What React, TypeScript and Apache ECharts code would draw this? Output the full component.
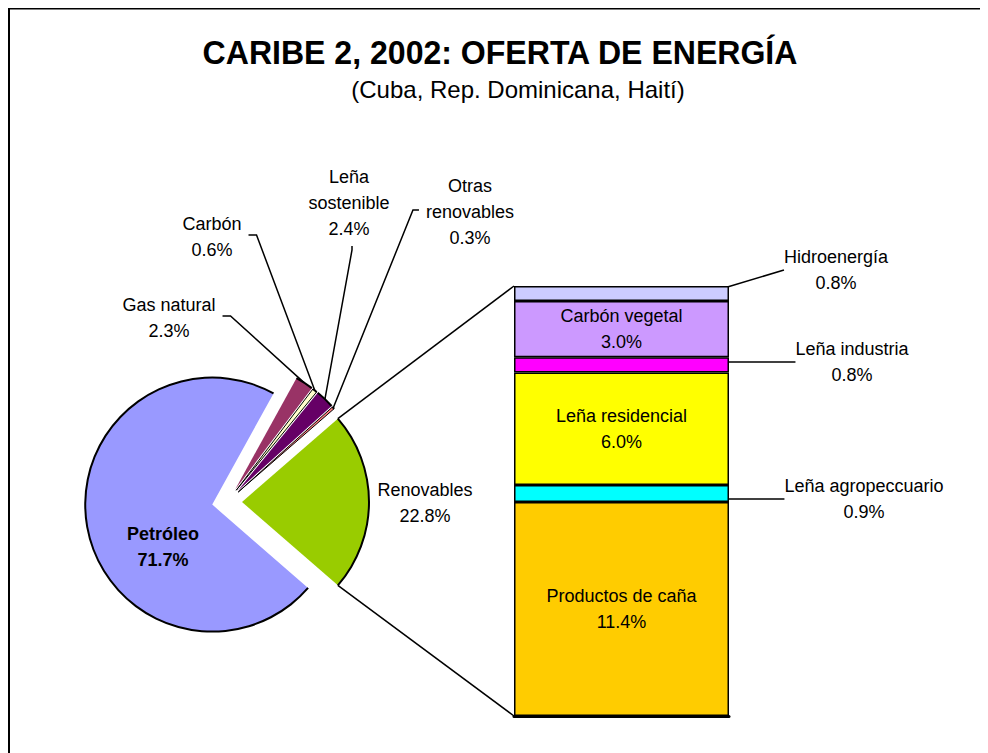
import React, { useEffect, useRef } from 'react';
import * as echarts from 'echarts';

const TITLE = 'CARIBE 2, 2002: OFERTA DE ENERGÍA';
const SUBTITLE = '(Cuba, Rep. Dominicana, Haití)';

// Pie (clockwise from the top edge of "Renovables")
const pieNames = ['Renovables', 'Petróleo', 'Gas natural', 'Carbón', 'Leña sostenible', 'Otras renovables'];
const pieLabelNames = ['Renovables', 'Petróleo', 'Gas natural', 'Carbón', 'Leña\nsostenible', 'Otras\nrenovables'];
const pieValues = [22.8, 71.7, 2.3, 0.6, 2.4, 0.3];
const pieColors = ['#99CC00', '#9999FF', '#993366', '#FFFFCC', '#660066', '#FF8080'];

// Bar of "Renovables" (bottom to top)
const barNames = ['Productos de caña', 'Leña agropeccuario', 'Leña residencial', 'Leña industria', 'Carbón vegetal', 'Hidroenergía'];
const barValues = [11.4, 0.9, 6.0, 0.8, 3.0, 0.8];
const barColors = ['#FFCC00', '#00FFFF', '#FFFF00', '#FF00FF', '#CC99FF', '#CCCCFF'];
const barLabelInside = [true, false, true, false, true, false];

// layout
const FONT = '"Liberation Sans", Arial, sans-serif';
const FONT_SIZE = 18;
const PIE_CENTER = [219, 494];
const PIE_R = 127;
const EXPLODE = 15;
const START_ANGLE = 41;
const GRID = { left: 506, top: 278, width: 215, height: 430 };
const pieLabelPos: number[][] = [[417, 495], [155, 539], [161, 310], [204, 229], [341, 195], [462, 204]];
const pieLineSide: (string | null)[] = [null, null, 'right', 'right', 'bottom', 'left'];
const barLabelPos: (number[] | null)[] = [null, [856, 491], null, [844, 354], null, [828, 262]];
const barLineStub = [0, 0, 0, 0, 0, 6];

export default function App() {
  const ref = useRef<HTMLDivElement>(null);
  useEffect(() => {
    if (!ref.current) return;
    const chart = echarts.init(ref.current, undefined, { renderer: 'svg' });
    const barTotal = barValues.reduce((a, b) => a + b, 0);
    const pieTotal = pieValues.reduce((a, b) => a + b, 0);

    const labelText = { color: '#000', fontFamily: FONT, fontSize: FONT_SIZE, lineHeight: 26, textBorderWidth: 0 };
    const lineStyle = { color: '#000', width: 1.5 };
    const clear = 'rgba(0,0,0,0)';

    // geometry of each exploded slice, derived from the data
    const geo: { start: number; ang: number; center: number[]; arcMid: number[] }[] = [];
    let cum = 0;
    pieValues.forEach((v) => {
      const ang = (v / pieTotal) * 360;
      const start = START_ANGLE - cum;
      const bis = ((start - ang / 2) * Math.PI) / 180;
      const center = [PIE_CENTER[0] + EXPLODE * Math.cos(bis), PIE_CENTER[1] - EXPLODE * Math.sin(bis)];
      geo.push({
        start,
        ang,
        center,
        arcMid: [center[0] + PIE_R * Math.cos(bis), center[1] - PIE_R * Math.sin(bis)],
      });
      cum += ang;
    });

    const pieSeries: any[] = [];
    pieValues.forEach((v, i) => {
      const g = geo[i];
      const smallBorder = i === 3 || i === 5;
      const inside = i === 1;
      const side = pieLineSide[i];
      pieSeries.push({
        type: 'pie',
        name: pieNames[i],
        center: g.center,
        radius: PIE_R,
        startAngle: g.start,
        clockwise: true,
        minAngle: 0,
        avoidLabelOverlap: false,
        emphasis: { disabled: true },
        z: 2,
        label: {
          show: true,
          position: inside ? 'inside' : 'outside',
          ...labelText,
          fontWeight: inside ? 'bold' : 'normal',
        },
        labelLine: side ? { show: true, length: 10, length2: 8, lineStyle } : { show: false },
        labelLayout: (p: any) => {
          if (p.dataIndex !== 0) return {};
          const [lx, ly] = pieLabelPos[i];
          const res: any = { x: lx, y: ly, align: 'center', verticalAlign: 'middle' };
          if (side) {
            const w = p.labelRect.width;
            const h = p.labelRect.height;
            let edge: number[];
            let stub: number[];
            if (side === 'right') {
              edge = [lx + w / 2 + 7, ly - 2];
              stub = [edge[0] + 8, edge[1]];
            } else if (side === 'left') {
              edge = [lx - w / 2 - 7, ly - 2];
              stub = [edge[0] - 6, edge[1]];
            } else {
              edge = [lx + 3, ly + h / 2 + 4];
              stub = [edge[0], edge[1] + 4];
            }
            res.labelLinePoints = [g.arcMid, stub, edge];
          }
          return res;
        },
        data: [
          {
            name: pieNames[i],
            value: v,
            itemStyle: { color: pieColors[i], borderColor: '#000', borderWidth: smallBorder ? 1 : 0 },
            label: { formatter: pieLabelNames[i] + '\n' + v.toFixed(1) + '%' },
          },
          {
            name: '',
            value: pieTotal - v,
            itemStyle: { color: clear, borderWidth: 0 },
            label: { show: false },
            labelLine: { show: false },
          },
        ],
      });
      // black outline along the arc
      pieSeries.push({
        type: 'pie',
        name: pieNames[i] + ' arc',
        silent: true,
        center: g.center,
        radius: [PIE_R - 1, PIE_R + 1],
        startAngle: g.start,
        clockwise: true,
        minAngle: 0,
        emphasis: { disabled: true },
        z: 3,
        label: { show: false },
        labelLine: { show: false },
        data: [
          { name: pieNames[i], value: v, itemStyle: { color: '#000', borderWidth: 0 } },
          { name: '', value: pieTotal - v, itemStyle: { color: clear, borderWidth: 0 } },
        ],
      });
    });

    const barSeries = barValues.map((v, i) => {
      const pos = barLabelPos[i];
      return {
        type: 'bar',
        name: barNames[i],
        stack: 'ren',
        barWidth: '100%',
        data: [v],
        itemStyle: { color: barColors[i], borderColor: '#000', borderWidth: 1.5 },
        emphasis: { disabled: true },
        label: {
          show: true,
          position: barLabelInside[i] ? 'inside' : 'right',
          ...labelText,
          formatter: barNames[i] + '\n' + v.toFixed(1) + '%',
        },
        labelLine: pos ? { show: true, lineStyle } : { show: false },
        labelLayout: pos
          ? (p: any) => {
              const w = p.labelRect.width;
              const r = p.rect;
              const segMid = [r.x + r.width, r.y + r.height / 2];
              const edge = [pos[0] - w / 2 - 4, pos[1] - 1];
              const stub = [edge[0] - barLineStub[i], edge[1]];
              return {
                x: pos[0],
                y: pos[1],
                align: 'center',
                verticalAlign: 'middle',
                labelLinePoints: [segMid, stub, edge],
              };
            }
          : undefined,
      };
    });

    const option: any = {
      animation: false,
      grid: { ...GRID },
      xAxis: {
        type: 'category',
        data: ['Renovables'],
        axisLabel: { show: false },
        axisTick: { show: false },
        axisLine: { show: true, lineStyle: { color: '#000', width: 3 } },
        splitLine: { show: false },
      },
      yAxis: { type: 'value', min: 0, max: barTotal, show: false, splitLine: { show: false } },
      series: [...pieSeries, ...barSeries],
    };
    chart.setOption(option);

    // connector lines from the "Renovables" slice to the bar, derived from data
    const g0 = geo[0];
    const a1 = (g0.start * Math.PI) / 180;
    const a2 = ((g0.start - g0.ang) * Math.PI) / 180;
    const p1 = [g0.center[0] + PIE_R * Math.cos(a1), g0.center[1] - PIE_R * Math.sin(a1)];
    const p2 = [g0.center[0] + PIE_R * Math.cos(a2), g0.center[1] - PIE_R * Math.sin(a2)];
    const topY = chart.convertToPixel({ yAxisIndex: 0 }, barTotal) as number;
    const botY = chart.convertToPixel({ yAxisIndex: 0 }, 0) as number;
    const barLeft = GRID.left;

    chart.setOption({
      graphic: [
        {
          type: 'rect',
          silent: true,
          shape: { x: 1, y: 0.5, width: 972, height: 800 },
          style: { fill: 'none', stroke: '#000', lineWidth: 2 },
        },
        {
          type: 'text',
          x: 492,
          y: 44,
          scaleX: 0.943,
          style: {
            text: TITLE,
            font: `bold 34px ${FONT}`,
            fill: '#000',
            textAlign: 'center',
            textVerticalAlign: 'middle',
          },
        },
        {
          type: 'text',
          x: 510,
          y: 81,
          style: {
            text: SUBTITLE,
            font: `24px ${FONT}`,
            fill: '#000',
            textAlign: 'center',
            textVerticalAlign: 'middle',
          },
        },
        {
          type: 'line',
          silent: true,
          shape: { x1: p1[0], y1: p1[1], x2: barLeft, y2: topY },
          style: { stroke: '#000', lineWidth: 1.5 },
        },
        {
          type: 'line',
          silent: true,
          shape: { x1: p2[0], y1: p2[1], x2: barLeft, y2: botY },
          style: { stroke: '#000', lineWidth: 1.5 },
        },
      ],
    });

    return () => chart.dispose();
  }, []);
  return <div ref={ref} style={{ width: 974, height: 745 }} />;
}
